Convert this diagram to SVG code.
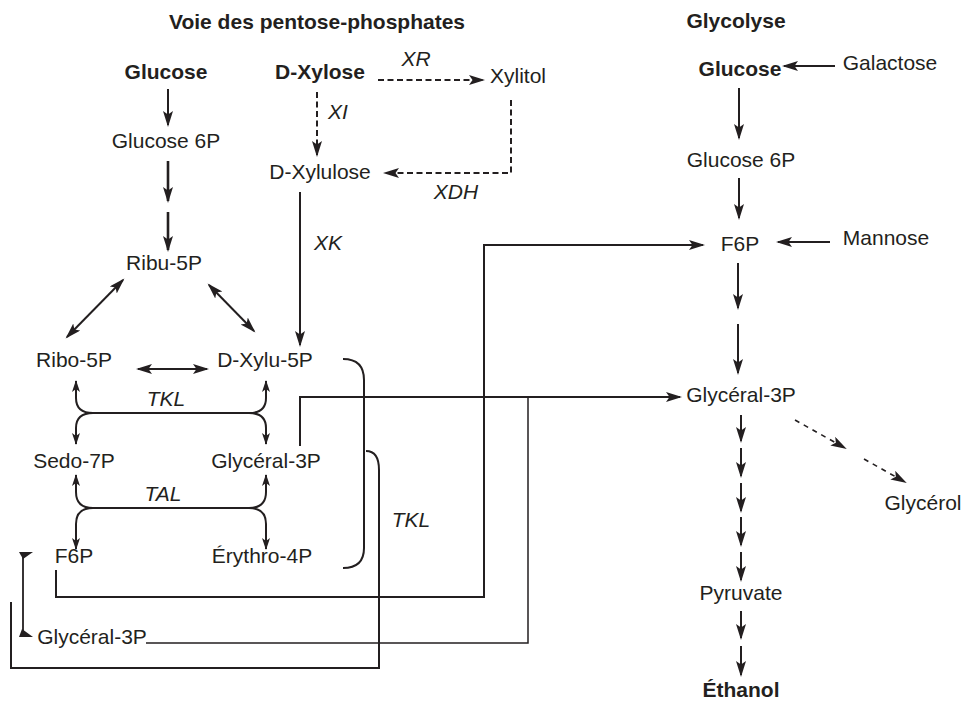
<svg xmlns="http://www.w3.org/2000/svg" width="964" height="702" viewBox="0 0 964 702">
<style>
text{font-family:"Liberation Sans",Arial,Helvetica,sans-serif;font-size:21px;fill:#231f20;text-anchor:middle}
.b{font-weight:bold}
.i{font-style:italic}
.c{fill:none;stroke:#231f20;stroke-width:2}
.t{stroke-width:2.6}
.d{stroke-dasharray:6 3.5}
.d2{stroke-dasharray:5 5;stroke-width:1.6}
.th{stroke-width:1.5}
.a{marker-end:url(#ah)}
.aa{marker-start:url(#ah);marker-end:url(#ah)}
.s{marker-start:url(#as);marker-end:url(#as)}
.s1{marker-start:url(#as)}
</style>
<defs>
<marker id="ah" markerUnits="userSpaceOnUse" markerWidth="17" markerHeight="11" refX="14" refY="5" orient="auto-start-reverse" viewBox="0 0 17 11">
<path d="M0,0 L16,5 L0,10 L3.5,5 Z" fill="#231f20"/>
</marker>
<marker id="as" markerUnits="userSpaceOnUse" markerWidth="13" markerHeight="9" refX="11" refY="4" orient="auto-start-reverse" viewBox="0 0 13 9">
<path d="M0,0 L12,4 L0,8 L3,4 Z" fill="#231f20"/>
</marker>
</defs>

<g id="titles">
<text class="b" x="317" y="29">Voie des pentose-phosphates</text>
<text class="b" x="736" y="28">Glycolyse</text>
</g>

<g id="connectors">
<path class="c a" d="M168,89 V125"/>
<path class="c t a" d="M168,161 V201"/>
<path class="c t a" d="M168,212 V250"/>
<path class="c aa" d="M123,280 L67,337"/>
<path class="c aa" d="M209,285 L254,331"/>
<path class="c aa" d="M138,369 H207"/>
<path class="c a" d="M300,192 V345"/>
<path class="c d a" d="M378,80 H483"/>
<path class="c d a" d="M317,92 V155"/>
<path class="c d a" d="M511,100 V173 H385"/>
<path class="c s" d="M76,381 V398 Q76,413 93,413 H249 Q266,413 266,398 V381"/>
<path class="c s1" d="M76,444 V428 Q76,413 93,413"/>
<path class="c s1" d="M266,444 V428 Q266,413 249,413"/>
<path class="c s" d="M76,475 V492 Q76,508 93,508 H249 Q266,508 266,492 V475"/>
<path class="c s1" d="M76,549 V524 Q76,508 93,508"/>
<path class="c s1" d="M266,549 V524 Q266,508 249,508"/>
<path class="c" d="M343,359 Q364,359 364,380 V548 Q364,568 343,568"/>
<path class="c" d="M366,451 Q379,451 379,470 V668 H11 V602"/>
<path class="c a" d="M56,570 V597 H484 V245 H703"/>
<path class="c a" d="M300,446 V397 H680"/>
<path class="c th" d="M528,397 V643 H146"/>
<path class="c" d="M23,553 V636" style="stroke-width:1.8"/>
<polygon points="19,552 33,552 23,559" fill="#231f20"/>
<polygon points="22,629 33,637 19,637" fill="#231f20"/>
<path class="c a" d="M835,66 H784"/>
<path class="c a" d="M739,88 V138"/>
<path class="c a" d="M739,178 V218"/>
<path class="c a" d="M830,242 H778"/>
<path class="c a" d="M738,263 V308"/>
<path class="c a" d="M738,324 V373"/>
<path class="c a" d="M741,415 V441"/>
<path class="c a" d="M741,448 V476"/>
<path class="c a" d="M741,483 V511"/>
<path class="c a" d="M741,517 V545"/>
<path class="c a" d="M741,552 V580"/>
<path class="c a" d="M741,611 V638"/>
<path class="c a" d="M741,646 V675"/>
<path class="c d2 a" d="M795,420 L845,448"/>
<path class="c d2 a" d="M864,459 L905,482"/>
</g>

<g id="n-glucose-l"><text class="b" x="166" y="79">Glucose</text></g>
<g id="n-dxylose"><text class="b" x="320" y="79">D-Xylose</text></g>
<g id="l-xr"><text class="i" x="416" y="66">XR</text></g>
<g id="n-xylitol"><text x="518" y="83">Xylitol</text></g>
<g id="l-xi"><text class="i" x="338" y="119">XI</text></g>
<g id="n-g6p-l"><text x="166" y="148">Glucose 6P</text></g>
<g id="n-dxylulose"><text x="320" y="179">D-Xylulose</text></g>
<g id="l-xdh"><text class="i" x="456" y="199">XDH</text></g>
<g id="l-xk"><text class="i" x="328" y="250">XK</text></g>
<g id="n-ribu5p"><text x="164" y="270">Ribu-5P</text></g>
<g id="n-ribo5p"><text x="74" y="367">Ribo-5P</text></g>
<g id="n-dxylu5p"><text x="265" y="367">D-Xylu-5P</text></g>
<g id="l-tkl1"><text class="i" x="166" y="406">TKL</text></g>
<g id="n-sedo7p"><text x="74" y="468">Sedo-7P</text></g>
<g id="n-g3p-m"><text x="266" y="468">Glycéral-3P</text></g>
<g id="l-tal"><text class="i" x="163" y="501">TAL</text></g>
<g id="n-f6p-l"><text x="74" y="563">F6P</text></g>
<g id="n-erythro"><text x="262" y="563">Érythro-4P</text></g>
<g id="l-tkl2"><text class="i" x="411" y="527">TKL</text></g>
<g id="n-g3p-b"><text x="92" y="644">Glycéral-3P</text></g>
<g id="n-glucose-r"><text class="b" x="740" y="76">Glucose</text></g>
<g id="n-galactose"><text x="890" y="70">Galactose</text></g>
<g id="n-g6p-r"><text x="741" y="167">Glucose 6P</text></g>
<g id="n-f6p-r"><text x="740" y="251">F6P</text></g>
<g id="n-mannose"><text x="886" y="245">Mannose</text></g>
<g id="n-g3p-r"><text x="741" y="402">Glycéral-3P</text></g>
<g id="n-glycerol"><text x="923" y="510">Glycérol</text></g>
<g id="n-pyruvate"><text x="741" y="600">Pyruvate</text></g>
<g id="n-ethanol"><text class="b" x="741" y="697">Éthanol</text></g>
</svg>
